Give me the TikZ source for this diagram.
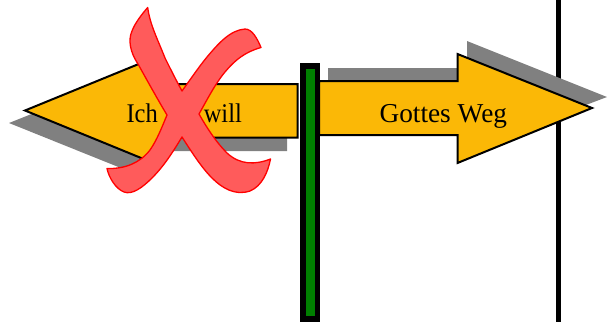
\documentclass[tikz,border=0pt]{standalone}
\usepackage{fontspec}
\setmainfont{Liberation Serif}
\definecolor{arrowfill}{HTML}{FBB806}
\definecolor{crossfill}{HTML}{FF5B5B}
\definecolor{polegreen}{HTML}{008000}
\tikzset{
  shadowshape/.style={fill=black!50,draw=none},
  arrowshape/.style={fill=arrowfill,draw=black,line width=2pt,line join=miter},
  crossshape/.style={fill=crossfill,draw=red,line width=1.3pt,line join=round},
  label/.style={font=\fontsize{27.3pt}{30pt}\selectfont,text=black,inner sep=0pt,anchor=base}
}
\begin{document}
\begin{tikzpicture}[x=1pt,y=-1pt]
\useasboundingbox (0,0) rectangle (608,322);
\fill[white] (0,0) rectangle (608,322);
% right vertical line
\fill[black] (555.5,0) rectangle (561,322);
% shadows
\path[shadowshape] (328,68) -- (467,68) -- (467,41) -- (607,97) -- (467,150) -- (467,122) -- (328,122) -- cycle;
\path[shadowshape] (287,97) -- (147,97) -- (147,68) -- (9,123) -- (147,178.5) -- (147,151) -- (287,151) -- cycle;
% arrows
\draw[arrowshape] (319,81) -- (457.5,81) -- (457.5,54) -- (592,108) -- (457.5,163) -- (457.5,135) -- (319,135) -- cycle;
\draw[arrowshape] (297.5,84) -- (160,84) -- (160,55.3) -- (25,110.5) -- (160,165.7) -- (160,137.5) -- (297.5,137.5) -- cycle;
% pole
\fill[black] (299.5,63) rectangle (320,322);
\fill[polegreen] (306,69) rectangle (314.5,316);
% texts
\node[label] (gottes) at (443.3,122) {Gottes Weg};
\node[label,font=\fontsize{24.5pt}{30pt}\selectfont,yscale=1.1] (ich) at (184.2,122) {Ich\hspace{46pt}will};
% cross
\draw[crossshape] (147.7,7.5)
  .. controls (150,25) and (158,40) .. (165,58)
  .. controls (170,68) and (176,80) .. (182,91)
  .. controls (190,80) and (198,68) .. (207,57)
  .. controls (218,44) and (230,30) .. (245,29)
  .. controls (252,29) and (257,38) .. (261,47.5)
  .. controls (245,52) and (235,60) .. (225,72)
  .. controls (215,84) and (207,100) .. (199,114)
  .. controls (207,128) and (216,142) .. (227,153)
  .. controls (240,165) and (255,165) .. (270.5,159)
  .. controls (268,172) and (262,186) .. (250,191)
  .. controls (235,196) and (222,188) .. (212,178)
  .. controls (201,167) and (191,151) .. (182,137)
  .. controls (174,150) and (165,165) .. (152,178)
  .. controls (142,188) and (132,195) .. (124,192)
  .. controls (116,189) and (109,178) .. (107,168.5)
  .. controls (125,169) and (140,163) .. (150,150)
  .. controls (157,140) and (162,127) .. (167,115)
  .. controls (158,100) and (148,82) .. (138,64)
  .. controls (130,52) and (128,40) .. (132,31)
  .. controls (135,23) and (142,14) .. (147.7,7.5)
  -- cycle;
\end{tikzpicture}
\end{document}
